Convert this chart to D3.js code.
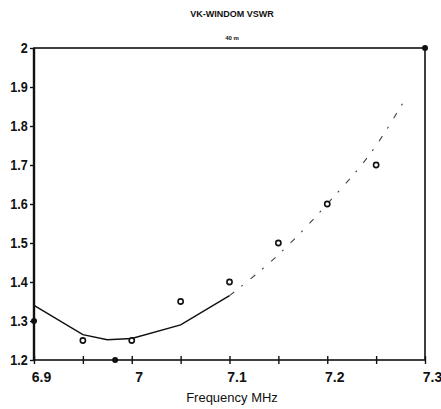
<!DOCTYPE html>
<html>
<head>
<meta charset="utf-8">
<script src="https://cdn.jsdelivr.net/npm/d3@7"></script>
<style>
  body { margin: 0; background: #fff; }
  text { font-family: "Liberation Sans Narrow", "Liberation Sans", Arial, sans-serif; fill: #111; }
</style>
</head>
<body>
<div id="chart"></div>
<script>
// measured VSWR points (open markers)
var measFreq = [6.95, 7.0, 7.05, 7.1, 7.15, 7.2, 7.25];
var measVswr = [1.25, 1.25, 1.35, 1.40, 1.50, 1.60, 1.70];

// fitted curve, solid part
var solidFreq = [6.9, 6.95, 6.975, 7.0, 7.05, 7.1];
var solidVswr = [1.34, 1.265, 1.252, 1.255, 1.29, 1.365];

// fitted curve, faint dashed continuation
var dashFreq = [7.1, 7.15, 7.2, 7.25, 7.28];
var dashVswr = [1.365, 1.47, 1.60, 1.75, 1.87];

// filled markers sitting on the frame
var edgeFreq = [6.9, 6.983, 7.3];
var edgeVswr = [1.30, 1.20, 2.0];

var xTicks = [6.9, 6.95, 7.0, 7.05, 7.1, 7.15, 7.2, 7.25, 7.3];
var xLabels = ["6.9", "", "7", "", "7.1", "", "7.2", "", "7.3"];
var yTicks = [1.2, 1.3, 1.4, 1.5, 1.6, 1.7, 1.8, 1.9, 2];

var W = 441, H = 409;
var margin = { top: 48, right: 16, bottom: 49, left: 34 };
var width = W - margin.left - margin.right,
    height = H - margin.top - margin.bottom;

var svg = d3.select("#chart").append("svg")
    .attr("width", W)
    .attr("height", H);

var g = svg.append("g")
    .attr("transform", "translate(" + margin.left + "," + margin.top + ")");

var x = d3.scaleLinear().domain([6.9, 7.3]).range([0, width]);
var y = d3.scaleLinear().domain([1.2, 2]).range([height, 0]);

// frame
g.append("rect")
    .attr("width", width)
    .attr("height", height)
    .attr("fill", "none")
    .attr("stroke", "#111")
    .attr("stroke-width", 1.6);
g.append("line")
    .attr("x1", 0).attr("x2", 0).attr("y1", 0).attr("y2", height)
    .attr("stroke", "#111").attr("stroke-width", 2.4);

// y axis
var yAxis = g.append("g")
    .call(d3.axisLeft(y).tickValues(yTicks).tickFormat(d3.format("")).tickSize(4));
yAxis.select(".domain").remove();
yAxis.selectAll("line").attr("stroke", "#111").attr("stroke-width", 1.4);
yAxis.selectAll("text")
    .attr("x", -7)
    .style("font-size", "14px")
    .style("font-weight", "bold")
    .attr("transform", "scale(0.9,1)");

// x axis
var xAxis = g.append("g")
    .attr("transform", "translate(0," + height + ")")
    .call(d3.axisBottom(x).tickValues(xTicks).tickFormat(function (d, i) { return xLabels[i]; }).tickSize(4));
xAxis.select(".domain").remove();
xAxis.selectAll("line").attr("y1", -4).attr("stroke", "#111").attr("stroke-width", 1.4);
xAxis.selectAll("text")
    .attr("dx", 7)
    .attr("y", 12)
    .style("font-size", "14px")
    .style("font-weight", "bold");

// titles
svg.append("text")
    .attr("x", 232).attr("y", 17)
    .attr("text-anchor", "middle")
    .style("font-size", "9px")
    .style("font-weight", "bold")
    .text("VK-WINDOM VSWR");
svg.append("text")
    .attr("x", 232).attr("y", 40)
    .attr("text-anchor", "middle")
    .style("font-size", "6px")
    .style("font-weight", "bold")
    .text("40 m");
svg.append("text")
    .attr("x", 232).attr("y", 402)
    .attr("text-anchor", "middle")
    .style("font-size", "13px")
    .text("Frequency MHz");

var line = d3.line()
    .x(function (d) { return x(d[0]); })
    .y(function (d) { return y(d[1]); });

g.append("path")
    .datum(d3.zip(solidFreq, solidVswr))
    .attr("d", line)
    .attr("fill", "none")
    .attr("stroke", "#111")
    .attr("stroke-width", 1.5);

g.append("path")
    .datum(d3.zip(dashFreq, dashVswr))
    .attr("d", line.curve(d3.curveMonotoneX))
    .attr("fill", "none")
    .attr("stroke", "#444")
    .attr("stroke-width", 1.1)
    .attr("stroke-dasharray", "6,9,2,10");

// open markers
g.selectAll(".meas")
    .data(d3.zip(measFreq, measVswr))
    .enter().append("circle")
    .attr("class", "meas")
    .attr("cx", function (d) { return x(d[0]); })
    .attr("cy", function (d) { return y(d[1]); })
    .attr("r", 2.6)
    .attr("fill", "#fff")
    .attr("stroke", "#111")
    .attr("stroke-width", 1.6);

// filled markers on frame
g.selectAll(".edge")
    .data(d3.zip(edgeFreq, edgeVswr))
    .enter().append("circle")
    .attr("class", "edge")
    .attr("cx", function (d) { return x(d[0]); })
    .attr("cy", function (d) { return y(d[1]); })
    .attr("r", 3)
    .attr("fill", "#111");
</script>
</body>
</html>
